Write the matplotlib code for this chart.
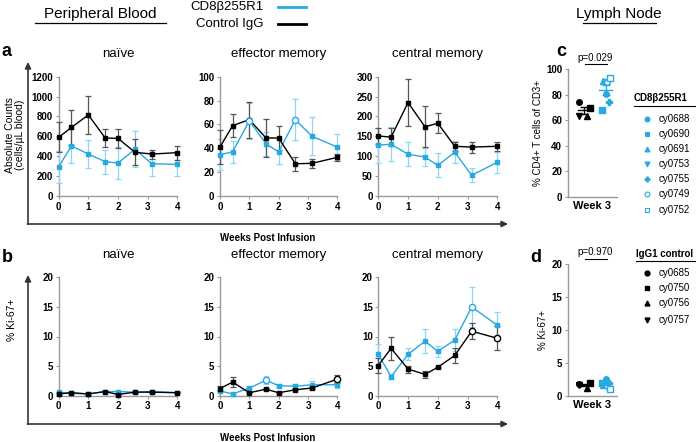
import matplotlib.pyplot as plt
import numpy as np

plt.rcParams['font.family'] = ['Liberation Sans', 'DejaVu Sans']

W, H = 696, 442
CYAN = '#27a9e1'
CYAN_ERR = '#8fd6f5'
GREY = '#9a9a9a'

weeks = [0, 0.43, 1, 1.57, 2, 2.57, 3.14, 4]

# panel a: absolute counts (cells/uL blood)
a_naive_ctrl = [590, 690, 815, 583, 580, 440, 422, 436]
a_naive_ctrl_err = [150, 180, 190, 95, 95, 130, 45, 70]
a_naive_cd8 = [295, 503, 422, 345, 332, 469, 325, 318]
a_naive_cd8_err = [160, 170, 140, 120, 160, 180, 120, 120]

a_em_ctrl = [41, 59, 64, 48.6, 48.6, 27, 27.4, 32.4]
a_em_ctrl_err = [14, 9.5, 15, 16, 10, 6, 4, 3]
a_em_cd8 = [34.6, 37, 63, 43.6, 37, 64, 50, 41]
a_em_cd8_err = [13, 9, 15, 10, 10, 17, 16, 11]

a_cm_ctrl = [151, 148, 235, 174, 183, 125, 123, 125]
a_cm_ctrl_err = [20, 22, 58, 52, 25, 12, 14, 11]
a_cm_cd8 = [128, 130, 105, 98, 77, 110, 52, 85]
a_cm_cd8_err = [44, 43, 30, 22, 30, 28, 18, 26]

# panel b: % Ki-67+
b_naive_ctrl = [0.3, 0.5, 0.3, 0.7, 0.2, 0.6, 0.6, 0.5]
b_naive_ctrl_err = [0.1, 0.1, 0.1, 0.1, 0.1, 0.1, 0.1, 0.1]
b_naive_cd8 = [0.6, 0.4, 0.3, 0.7, 0.7, 0.6, 0.7, 0.5]
b_naive_cd8_err = [0.1, 0.1, 0.1, 0.1, 0.1, 0.1, 0.1, 0.1]

b_em_ctrl = [1.2, 2.3, 0.5, 1.1, 0.5, 1.0, 1.3, 2.8]
b_em_ctrl_err = [0.4, 0.8, 0.1, 0.2, 0.1, 0.1, 0.2, 0.7]
b_em_cd8 = [0.8, 0.3, 1.3, 2.6, 1.7, 1.6, 1.85, 1.85]
b_em_cd8_err = [0.2, 0.1, 0.4, 0.7, 0.3, 0.3, 0.7, 0.5]

b_cm_ctrl = [5.1, 8.0, 4.5, 3.6, 4.8, 6.8, 10.9, 9.7]
b_cm_ctrl_err = [1.2, 1.9, 0.6, 0.6, 0.1, 1.3, 1.3, 2.0]
b_cm_cd8 = [7.0, 3.2, 7.0, 9.2, 7.5, 9.4, 15.0, 11.9]
b_cm_cd8_err = [1.8, 0.4, 1.0, 2.0, 0.9, 1.9, 3.4, 2.2]

# open markers (index into weeks)
open_pts = {
    'a_em_cd8': [2, 5],
    'b_em_cd8': [3],
    'b_em_ctrl': [7],
    'b_cm_cd8': [6],
    'b_cm_ctrl': [6, 7],
}

# panels c, d: lymph node, week 3
ctrl_ids = ['cy0685', 'cy0750', 'cy0756', 'cy0757']
ctrl_markers = ['o', 's', '^', 'v']
c_ctrl = [74, 69.6, 63.6, 63.6]
d_ctrl = [1.8, 2.0, 1.2, 1.7]

cd8_ids = ['cy0688', 'cy0690', 'cy0691', 'cy0753', 'cy0755', 'cy0749', 'cy0752']
cd8_markers = ['o', 's', '^', 'v', 'P', 'o', 's']
cd8_open = [False, False, False, False, False, True, True]
c_cd8 = [80.6, 68, 91, 90, 74, 90, 93]
d_cd8 = [2.5, 1.9, 1.6, 1.8, 2.0, 1.4, 1.0]

ctrl_jit = [-0.23, 0.26, 0.14, -0.26]
cd8_jit = [0.0, -0.2, -0.15, -0.05, 0.15, 0.06, 0.19]

fig = plt.figure(figsize=(W / 100, H / 100), dpi=100)


def ax_px(x0, y0, x1, y1):
    return fig.add_axes([x0 / W, 1 - y1 / H, (x1 - x0) / W, (y1 - y0) / H])


def style(ax):
    for s in ['top', 'right']:
        ax.spines[s].set_visible(False)
    for s in ['left', 'bottom']:
        ax.spines[s].set_color(GREY)
        ax.spines[s].set_linewidth(1)
    ax.tick_params(length=2.5, width=0.8, color=GREY, pad=1.5, labelsize=7)
    for lab in ax.get_xticklabels() + ax.get_yticklabels():
        lab.set_fontweight('bold')


def series(ax, y, err, color, ecolor, key):
    ax.errorbar(weeks, y, yerr=err, color=color, ecolor=ecolor, lw=1,
                elinewidth=0.9, capsize=2, capthick=0.9, marker='s',
                ms=3, clip_on=False, zorder=3)
    for i in open_pts.get(key, []):
        ax.plot(weeks[i], y[i], 'o', ms=4.5, mfc='white', mec=color,
                mew=1, clip_on=False, zorder=4)


def timecourse(x0, y0, x1, y1, ctrl, ctrl_err, cd8, cd8_err, ymax, ystep, title, key):
    ax = ax_px(x0, y0, x1, y1)
    series(ax, cd8, cd8_err, CYAN, CYAN_ERR, key + '_cd8')
    series(ax, ctrl, ctrl_err, 'black', '#555555', key + '_ctrl')
    ax.set_xlim(0, 4)
    ax.set_ylim(0, ymax)
    ax.set_xticks([0, 1, 2, 3, 4])
    ax.set_yticks(np.arange(0, ymax + 1, ystep))
    style(ax)
    ax.set_title(title, fontsize=9.5, pad=14)
    return ax


ya = (76.7, 196)
yb = (277.3, 395.7)
xs = [(58.7, 177.3), (220, 337.3), (378.3, 497.3)]
titles = ['naïve', 'effector memory', 'central memory']

timecourse(xs[0][0], ya[0], xs[0][1], ya[1], a_naive_ctrl, a_naive_ctrl_err,
           a_naive_cd8, a_naive_cd8_err, 1200, 200, titles[0], 'a_naive')
timecourse(xs[1][0], ya[0], xs[1][1], ya[1], a_em_ctrl, a_em_ctrl_err,
           a_em_cd8, a_em_cd8_err, 100, 20, titles[1], 'a_em')
timecourse(xs[2][0], ya[0], xs[2][1], ya[1], a_cm_ctrl, a_cm_ctrl_err,
           a_cm_cd8, a_cm_cd8_err, 300, 50, titles[2], 'a_cm')

timecourse(xs[0][0], yb[0], xs[0][1], yb[1], b_naive_ctrl, b_naive_ctrl_err,
           b_naive_cd8, b_naive_cd8_err, 20, 5, titles[0], 'b_naive')
timecourse(xs[1][0], yb[0], xs[1][1], yb[1], b_em_ctrl, b_em_ctrl_err,
           b_em_cd8, b_em_cd8_err, 20, 5, titles[1], 'b_em')
timecourse(xs[2][0], yb[0], xs[2][1], yb[1], b_cm_ctrl, b_cm_ctrl_err,
           b_cm_cd8, b_cm_cd8_err, 20, 5, titles[2], 'b_cm')


def week3(y0, y1, ctrl, cd8, ymax, ystep, ylabel, ptext):
    ax = ax_px(567.7, y0, 616.7, y1)
    for v, m, j in zip(ctrl, ctrl_markers, ctrl_jit):
        ax.plot(0 + j, v, m, color='black', ms=4, clip_on=False, zorder=3)
    for v, m, j, o in zip(cd8, cd8_markers, cd8_jit, cd8_open):
        ax.plot(1 + j, v, m, color=CYAN, mfc='white' if o else CYAN,
                ms=4, mew=1, clip_on=False, zorder=3)
    for g, vals, col in [(0, ctrl, 'black'), (1, cd8, CYAN)]:
        m = np.mean(vals)
        se = np.std(vals, ddof=1) / np.sqrt(len(vals))
        ax.plot([g - 0.3, g + 0.3], [m, m], color=col, lw=1, zorder=4)
        ax.errorbar(g, m, yerr=se, color=col, capsize=3, lw=1, zorder=4)
    ax.set_xlim(-0.77, 1.5)
    ax.set_ylim(0, ymax)
    ax.set_yticks(np.arange(0, ymax + 1, ystep))
    ax.set_xticks([])
    style(ax)
    ax.set_xlabel('Week 3', fontsize=8, fontweight='bold', labelpad=3)
    ax.set_ylabel(ylabel, fontsize=7, labelpad=2)
    ax.plot([0.05, 1.05], [ymax * 1.04, ymax * 1.04], color='black', lw=0.8,
            clip_on=False)
    ax.text(0.5, ymax * 1.05, ptext, ha='center', va='bottom', fontsize=7)
    return ax


week3(69.3, 196.7, c_ctrl, c_cd8, 100, 20, '% CD4+ T cells of CD3+', 'p=0.029')
week3(264, 395.7, d_ctrl, d_cd8, 20, 5, '% Ki-67+', 'p=0.970')

# overlay in pixel coordinates for arrows, labels, legends
ov = fig.add_axes([0, 0, 1, 1])
ov.set_xlim(0, W)
ov.set_ylim(H, 0)
ov.axis('off')

for top, bot in [(62, 224), (275, 424)]:
    ov.annotate('', xy=(28, top), xytext=(28, bot),
                arrowprops=dict(arrowstyle='-|>', color='#333333', lw=1.2,
                                mutation_scale=9, shrinkA=0, shrinkB=0))
    ov.annotate('', xy=(508, bot), xytext=(27.4, bot),
                arrowprops=dict(arrowstyle='-|>', color='#333333', lw=1.2,
                                mutation_scale=9, shrinkA=0, shrinkB=0))
    ov.text(268, bot + 14, 'Weeks Post Infusion', ha='center', va='center',
            fontsize=7, fontweight='bold')

ov.text(15, 135, 'Absolute Counts\n(cells/µL blood)', rotation=90,
        ha='center', va='center', fontsize=7.5, linespacing=1.1)
ov.text(12, 320, '% Ki-67+', rotation=90, ha='center', va='center', fontsize=7.5)

for lab, x, y in [('a', 2, 52), ('b', 2, 257), ('c', 556, 52), ('d', 530, 257)]:
    ov.text(x, y, lab, fontsize=13, fontweight='bold', ha='left', va='center')

ov.text(100, 14, 'Peripheral Blood', fontsize=11, ha='center', va='center')
ov.plot([35, 166], [23, 23], color='black', lw=0.9)
ov.text(619, 14, 'Lymph Node', fontsize=11, ha='center', va='center')
ov.plot([583, 656], [23, 23], color='black', lw=0.9)

ov.text(264, 7, 'CD8β255R1', fontsize=9.5, ha='right', va='center')
ov.plot([278, 306], [7, 7], color=CYAN, lw=2)
ov.text(264, 24, 'Control IgG', fontsize=9.5, ha='right', va='center')
ov.plot([278, 306], [24, 24], color='black', lw=2)

# legend for c
ov.text(634, 98, 'CD8β255R1', fontsize=7, fontweight='bold', ha='left', va='center')
ov.plot([634, 695], [106, 106], color='black', lw=0.8)
leg_y = [119.3, 134, 149.3, 164.3, 179, 194.3, 210]
for name, m, o, y in zip(cd8_ids, cd8_markers, cd8_open, leg_y):
    ov.plot(646.7, y, m, color=CYAN, mfc='white' if o else CYAN, ms=3.5, mew=0.8)
    ov.text(659, y, name, fontsize=7, ha='left', va='center')

# legend for d
ov.text(636, 254, 'IgG1 control', fontsize=7, fontweight='bold', ha='left', va='center')
ov.plot([636, 695], [261, 261], color='black', lw=0.8)
for name, m, y in zip(ctrl_ids, ctrl_markers, [272.7, 288.3, 303.3, 320]):
    ov.plot(646.7, y, m, color='black', ms=3.5)
    ov.text(659, y, name, fontsize=7, ha='left', va='center')

fig.savefig('out.png', dpi=100)
